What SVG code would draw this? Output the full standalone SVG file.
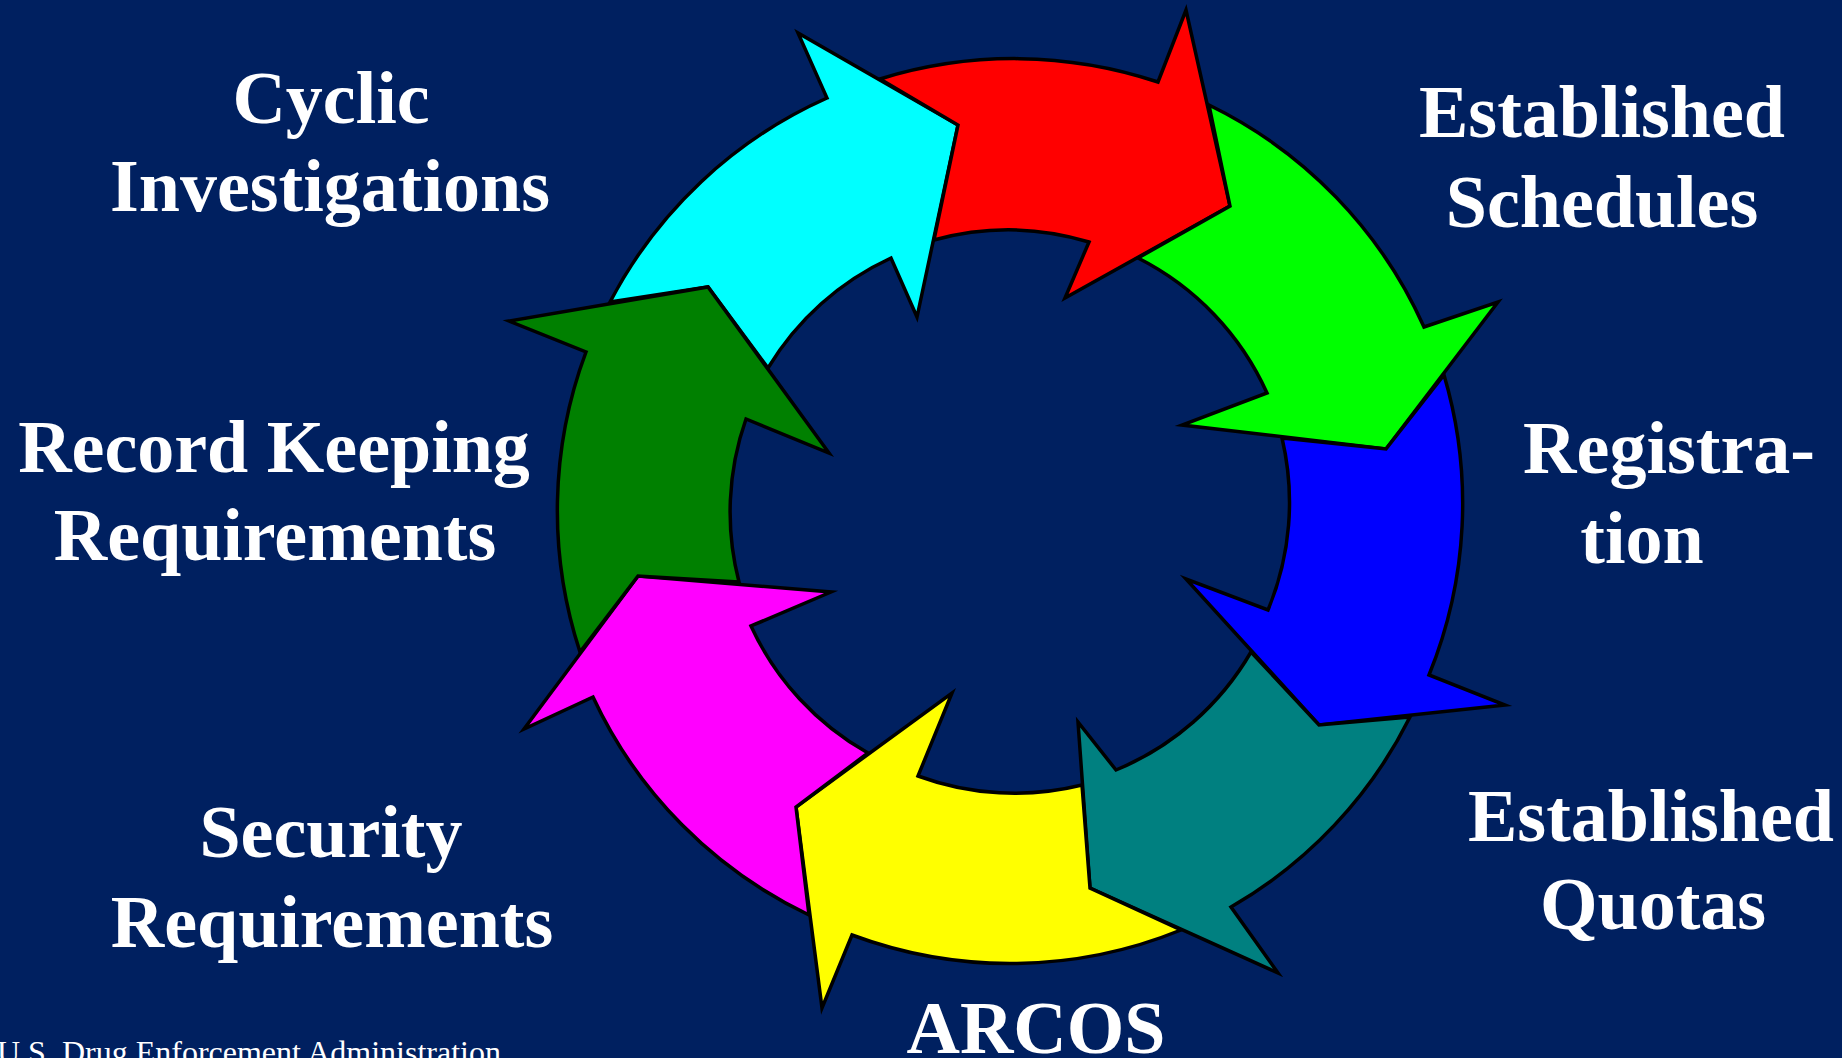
<svg xmlns="http://www.w3.org/2000/svg" width="1842" height="1058" viewBox="0 0 1842 1058">
<style>
.arrow{stroke:#000;stroke-width:3.5;stroke-linejoin:miter;stroke-miterlimit:12}
.lbl{font-family:"Liberation Serif","Times New Roman",serif;font-weight:bold;font-size:74px;fill:#fff;text-anchor:middle}
.foot{font-family:"Liberation Serif","Times New Roman",serif;font-size:32px;fill:#fff}
</style>
<rect x="0" y="0" width="1842" height="1058" fill="#002060"/>
<g id="connectors">
  <path id="arrow-cyan" class="arrow" fill="#00FFFF" d="M610 302 A453 453 0 0 1 827 98 L798 33 L958 125 L917 317 L891 258 A280 280 0 0 0 768 368 L708 287 Z"/>
  <path id="arrow-red" class="arrow" fill="#FF0000" d="M880 79 A453 453 0 0 1 1158 82 L1186 10 L1230 206 L1065 298 L1089 242 A280 280 0 0 0 934 240 L958 125 Z"/>
  <path id="arrow-green" class="arrow" fill="#00FF00" d="M1209 105 A453 453 0 0 1 1424 327 L1498 302 L1386 449 L1182 425 L1267 393 A280 280 0 0 0 1138 258 L1230 206 Z"/>
  <path id="arrow-blue" class="arrow" fill="#0000FF" d="M1444 375 A453 453 0 0 1 1429 675 L1505 705 L1319 725 L1186 579 L1268 610 A280 280 0 0 0 1282 438 L1386 449 Z"/>
  <path id="arrow-teal" class="arrow" fill="#008080" d="M1410 717 A453 453 0 0 1 1231 907 L1278 973 L1090 888 L1078 722 L1116 770 A280 280 0 0 0 1251 652 L1319 725 Z"/>
  <path id="arrow-yellow" class="arrow" fill="#FFFF00" d="M1181 930 A453 453 0 0 1 852 935 L822 1008 L796 807 L952 693 L918 776 A280 280 0 0 0 1082 785 L1090 888 Z"/>
  <path id="arrow-magenta" class="arrow" fill="#FF00FF" d="M809 915 A453 453 0 0 1 593 697 L524 729 L638 576 L831 592 L751 626 A280 280 0 0 0 868 753 L796 807 Z"/>
  <path id="arrow-darkgreen" class="arrow" fill="#008000" d="M580 652 A453 453 0 0 1 586 352 L509 321 L708 287 L829 453 L746 419 A280 280 0 0 0 739 582 L638 576 Z"/>
</g>
<g id="node-cyclic"><text class="lbl" x="331" y="123">Cyclic</text><text class="lbl" x="330" y="211">Investigations</text></g>
<g id="node-schedules"><text class="lbl" x="1602" y="137">Established</text><text class="lbl" x="1602" y="227">Schedules</text></g>
<g id="node-registration"><text class="lbl" x="1669" y="473">Registra-</text><text class="lbl" x="1642" y="563">tion</text></g>
<g id="node-quotas"><text class="lbl" x="1651" y="841">Established</text><text class="lbl" x="1653" y="929">Quotas</text></g>
<g id="node-arcos"><text class="lbl" x="1036" y="1053">ARCOS</text></g>
<g id="node-security"><text class="lbl" x="331" y="857">Security</text><text class="lbl" x="332" y="947">Requirements</text></g>
<g id="node-recordkeeping"><text class="lbl" x="274" y="472">Record Keeping</text><text class="lbl" x="275" y="560">Requirements</text></g>
<g id="footer"><text class="foot" x="-3" y="1063">U.S. Drug Enforcement Administration</text></g>
</svg>
